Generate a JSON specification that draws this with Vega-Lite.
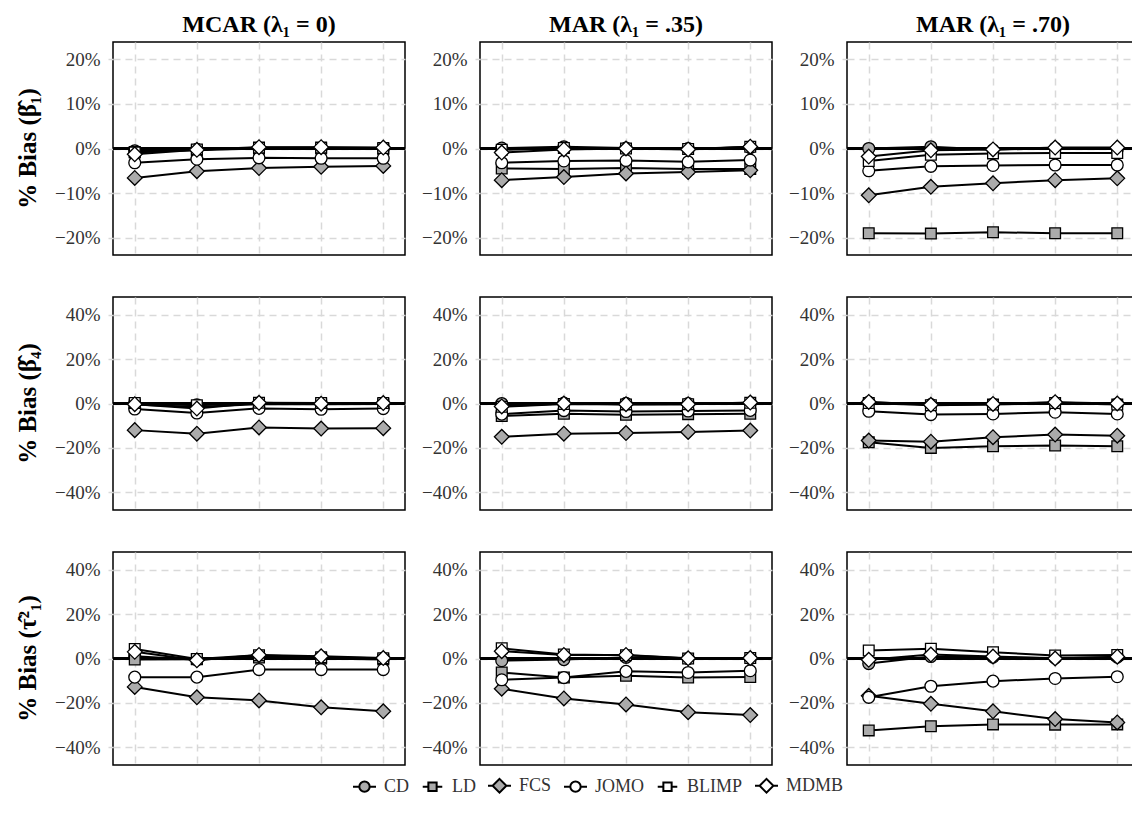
{
  "$schema": "https://vega.github.io/schema/vega-lite/v6.json",
  "background": "white",
  "padding": {"left": 15, "top": 13, "right": 0, "bottom": 0},
  "config": {
    "font": "Liberation Serif",
    "view": {"stroke": "black", "strokeWidth": 1.5},
    "axis": {"labelFont": "Liberation Serif", "labelFontSize": 19, "labelColor": "#333333", "gridColor": "#d9d9d9", "gridDash": [7, 5], "gridWidth": 1.5, "tickColor": "#d9d9d9", "tickSize": 5, "tickWidth": 1.5, "domain": false, "labelPadding": 8},
    "header": {"labelFont": "Liberation Serif", "labelColor": "black"}
  },
  "datasets": {
    "b1": [
      {"p":"b1","c":1,"m":"CD","x":1,"v":-0.5},{"p":"b1","c":1,"m":"CD","x":2,"v":-0.2},{"p":"b1","c":1,"m":"CD","x":3,"v":0.1},{"p":"b1","c":1,"m":"CD","x":4,"v":0.1},{"p":"b1","c":1,"m":"CD","x":5,"v":0.0},
      {"p":"b1","c":1,"m":"LD","x":1,"v":-0.8},{"p":"b1","c":1,"m":"LD","x":2,"v":-0.4},{"p":"b1","c":1,"m":"LD","x":3,"v":0.0},{"p":"b1","c":1,"m":"LD","x":4,"v":0.0},{"p":"b1","c":1,"m":"LD","x":5,"v":-0.1},
      {"p":"b1","c":1,"m":"FCS","x":1,"v":-6.6},{"p":"b1","c":1,"m":"FCS","x":2,"v":-5.1},{"p":"b1","c":1,"m":"FCS","x":3,"v":-4.4},{"p":"b1","c":1,"m":"FCS","x":4,"v":-4.1},{"p":"b1","c":1,"m":"FCS","x":5,"v":-3.9},
      {"p":"b1","c":1,"m":"JOMO","x":1,"v":-3.2},{"p":"b1","c":1,"m":"JOMO","x":2,"v":-2.4},{"p":"b1","c":1,"m":"JOMO","x":3,"v":-2.1},{"p":"b1","c":1,"m":"JOMO","x":4,"v":-2.2},{"p":"b1","c":1,"m":"JOMO","x":5,"v":-2.2},
      {"p":"b1","c":1,"m":"BLIMP","x":1,"v":-0.9},{"p":"b1","c":1,"m":"BLIMP","x":2,"v":-0.2},{"p":"b1","c":1,"m":"BLIMP","x":3,"v":0.2},{"p":"b1","c":1,"m":"BLIMP","x":4,"v":0.2},{"p":"b1","c":1,"m":"BLIMP","x":5,"v":0.1},
      {"p":"b1","c":1,"m":"MDMB","x":1,"v":-1.3},{"p":"b1","c":1,"m":"MDMB","x":2,"v":-0.3},{"p":"b1","c":1,"m":"MDMB","x":3,"v":0.3},{"p":"b1","c":1,"m":"MDMB","x":4,"v":0.3},{"p":"b1","c":1,"m":"MDMB","x":5,"v":0.2},
      {"p":"b1","c":2,"m":"CD","x":1,"v":0.1},{"p":"b1","c":2,"m":"CD","x":2,"v":0.4},{"p":"b1","c":2,"m":"CD","x":3,"v":0.1},{"p":"b1","c":2,"m":"CD","x":4,"v":0.0},{"p":"b1","c":2,"m":"CD","x":5,"v":0.2},
      {"p":"b1","c":2,"m":"LD","x":1,"v":-4.5},{"p":"b1","c":2,"m":"LD","x":2,"v":-4.6},{"p":"b1","c":2,"m":"LD","x":3,"v":-4.4},{"p":"b1","c":2,"m":"LD","x":4,"v":-4.6},{"p":"b1","c":2,"m":"LD","x":5,"v":-4.6},
      {"p":"b1","c":2,"m":"FCS","x":1,"v":-7.1},{"p":"b1","c":2,"m":"FCS","x":2,"v":-6.4},{"p":"b1","c":2,"m":"FCS","x":3,"v":-5.6},{"p":"b1","c":2,"m":"FCS","x":4,"v":-5.3},{"p":"b1","c":2,"m":"FCS","x":5,"v":-4.9},
      {"p":"b1","c":2,"m":"JOMO","x":1,"v":-3.2},{"p":"b1","c":2,"m":"JOMO","x":2,"v":-2.8},{"p":"b1","c":2,"m":"JOMO","x":3,"v":-2.7},{"p":"b1","c":2,"m":"JOMO","x":4,"v":-3.0},{"p":"b1","c":2,"m":"JOMO","x":5,"v":-2.6},
      {"p":"b1","c":2,"m":"BLIMP","x":1,"v":-0.3},{"p":"b1","c":2,"m":"BLIMP","x":2,"v":0.1},{"p":"b1","c":2,"m":"BLIMP","x":3,"v":0.0},{"p":"b1","c":2,"m":"BLIMP","x":4,"v":-0.1},{"p":"b1","c":2,"m":"BLIMP","x":5,"v":0.4},
      {"p":"b1","c":2,"m":"MDMB","x":1,"v":-0.9},{"p":"b1","c":2,"m":"MDMB","x":2,"v":-0.2},{"p":"b1","c":2,"m":"MDMB","x":3,"v":0.0},{"p":"b1","c":2,"m":"MDMB","x":4,"v":-0.2},{"p":"b1","c":2,"m":"MDMB","x":5,"v":0.4},
      {"p":"b1","c":3,"m":"CD","x":1,"v":0.0},{"p":"b1","c":3,"m":"CD","x":2,"v":0.4},{"p":"b1","c":3,"m":"CD","x":3,"v":-0.3},{"p":"b1","c":3,"m":"CD","x":4,"v":0.1},{"p":"b1","c":3,"m":"CD","x":5,"v":-0.1},
      {"p":"b1","c":3,"m":"LD","x":1,"v":-19.0},{"p":"b1","c":3,"m":"LD","x":2,"v":-19.1},{"p":"b1","c":3,"m":"LD","x":3,"v":-18.8},{"p":"b1","c":3,"m":"LD","x":4,"v":-19.0},{"p":"b1","c":3,"m":"LD","x":5,"v":-19.0},
      {"p":"b1","c":3,"m":"FCS","x":1,"v":-10.5},{"p":"b1","c":3,"m":"FCS","x":2,"v":-8.6},{"p":"b1","c":3,"m":"FCS","x":3,"v":-7.8},{"p":"b1","c":3,"m":"FCS","x":4,"v":-7.1},{"p":"b1","c":3,"m":"FCS","x":5,"v":-6.7},
      {"p":"b1","c":3,"m":"JOMO","x":1,"v":-5.0},{"p":"b1","c":3,"m":"JOMO","x":2,"v":-4.0},{"p":"b1","c":3,"m":"JOMO","x":3,"v":-3.8},{"p":"b1","c":3,"m":"JOMO","x":4,"v":-3.7},{"p":"b1","c":3,"m":"JOMO","x":5,"v":-3.7},
      {"p":"b1","c":3,"m":"BLIMP","x":1,"v":-2.8},{"p":"b1","c":3,"m":"BLIMP","x":2,"v":-1.4},{"p":"b1","c":3,"m":"BLIMP","x":3,"v":-1.1},{"p":"b1","c":3,"m":"BLIMP","x":4,"v":-1.0},{"p":"b1","c":3,"m":"BLIMP","x":5,"v":-1.0},
      {"p":"b1","c":3,"m":"MDMB","x":1,"v":-1.8},{"p":"b1","c":3,"m":"MDMB","x":2,"v":-0.4},{"p":"b1","c":3,"m":"MDMB","x":3,"v":-0.2},{"p":"b1","c":3,"m":"MDMB","x":4,"v":0.2},{"p":"b1","c":3,"m":"MDMB","x":5,"v":0.2}
    ],
    "b4": [
      {"p":"b4","c":1,"m":"CD","x":1,"v":0.0},{"p":"b4","c":1,"m":"CD","x":2,"v":-0.6},{"p":"b4","c":1,"m":"CD","x":3,"v":0.1},{"p":"b4","c":1,"m":"CD","x":4,"v":0.0},{"p":"b4","c":1,"m":"CD","x":5,"v":0.0},
      {"p":"b4","c":1,"m":"LD","x":1,"v":-0.4},{"p":"b4","c":1,"m":"LD","x":2,"v":-1.6},{"p":"b4","c":1,"m":"LD","x":3,"v":-0.3},{"p":"b4","c":1,"m":"LD","x":4,"v":-0.3},{"p":"b4","c":1,"m":"LD","x":5,"v":-0.2},
      {"p":"b4","c":1,"m":"FCS","x":1,"v":-12.0},{"p":"b4","c":1,"m":"FCS","x":2,"v":-13.6},{"p":"b4","c":1,"m":"FCS","x":3,"v":-10.8},{"p":"b4","c":1,"m":"FCS","x":4,"v":-11.3},{"p":"b4","c":1,"m":"FCS","x":5,"v":-11.1},
      {"p":"b4","c":1,"m":"JOMO","x":1,"v":-2.5},{"p":"b4","c":1,"m":"JOMO","x":2,"v":-4.3},{"p":"b4","c":1,"m":"JOMO","x":3,"v":-2.2},{"p":"b4","c":1,"m":"JOMO","x":4,"v":-2.6},{"p":"b4","c":1,"m":"JOMO","x":5,"v":-2.3},
      {"p":"b4","c":1,"m":"BLIMP","x":1,"v":0.2},{"p":"b4","c":1,"m":"BLIMP","x":2,"v":-0.8},{"p":"b4","c":1,"m":"BLIMP","x":3,"v":0.3},{"p":"b4","c":1,"m":"BLIMP","x":4,"v":0.2},{"p":"b4","c":1,"m":"BLIMP","x":5,"v":0.2},
      {"p":"b4","c":1,"m":"MDMB","x":1,"v":-0.3},{"p":"b4","c":1,"m":"MDMB","x":2,"v":-2.3},{"p":"b4","c":1,"m":"MDMB","x":3,"v":0.3},{"p":"b4","c":1,"m":"MDMB","x":4,"v":-0.1},{"p":"b4","c":1,"m":"MDMB","x":5,"v":0.2},
      {"p":"b4","c":2,"m":"CD","x":1,"v":0.0},{"p":"b4","c":2,"m":"CD","x":2,"v":0.2},{"p":"b4","c":2,"m":"CD","x":3,"v":0.1},{"p":"b4","c":2,"m":"CD","x":4,"v":0.0},{"p":"b4","c":2,"m":"CD","x":5,"v":0.2},
      {"p":"b4","c":2,"m":"LD","x":1,"v":-5.6},{"p":"b4","c":2,"m":"LD","x":2,"v":-4.6},{"p":"b4","c":2,"m":"LD","x":3,"v":-5.1},{"p":"b4","c":2,"m":"LD","x":4,"v":-4.8},{"p":"b4","c":2,"m":"LD","x":5,"v":-4.6},
      {"p":"b4","c":2,"m":"FCS","x":1,"v":-15.0},{"p":"b4","c":2,"m":"FCS","x":2,"v":-13.6},{"p":"b4","c":2,"m":"FCS","x":3,"v":-13.3},{"p":"b4","c":2,"m":"FCS","x":4,"v":-12.8},{"p":"b4","c":2,"m":"FCS","x":5,"v":-12.2},
      {"p":"b4","c":2,"m":"JOMO","x":1,"v":-4.8},{"p":"b4","c":2,"m":"JOMO","x":2,"v":-3.2},{"p":"b4","c":2,"m":"JOMO","x":3,"v":-3.6},{"p":"b4","c":2,"m":"JOMO","x":4,"v":-3.4},{"p":"b4","c":2,"m":"JOMO","x":5,"v":-3.1},
      {"p":"b4","c":2,"m":"BLIMP","x":1,"v":-1.5},{"p":"b4","c":2,"m":"BLIMP","x":2,"v":-0.2},{"p":"b4","c":2,"m":"BLIMP","x":3,"v":-0.4},{"p":"b4","c":2,"m":"BLIMP","x":4,"v":-0.3},{"p":"b4","c":2,"m":"BLIMP","x":5,"v":0.3},
      {"p":"b4","c":2,"m":"MDMB","x":1,"v":-1.3},{"p":"b4","c":2,"m":"MDMB","x":2,"v":0.0},{"p":"b4","c":2,"m":"MDMB","x":3,"v":-0.3},{"p":"b4","c":2,"m":"MDMB","x":4,"v":-0.3},{"p":"b4","c":2,"m":"MDMB","x":5,"v":0.4},
      {"p":"b4","c":3,"m":"CD","x":1,"v":0.6},{"p":"b4","c":3,"m":"CD","x":2,"v":-0.5},{"p":"b4","c":3,"m":"CD","x":3,"v":-0.3},{"p":"b4","c":3,"m":"CD","x":4,"v":0.4},{"p":"b4","c":3,"m":"CD","x":5,"v":-0.2},
      {"p":"b4","c":3,"m":"LD","x":1,"v":-17.5},{"p":"b4","c":3,"m":"LD","x":2,"v":-20.0},{"p":"b4","c":3,"m":"LD","x":3,"v":-19.3},{"p":"b4","c":3,"m":"LD","x":4,"v":-18.9},{"p":"b4","c":3,"m":"LD","x":5,"v":-19.3},
      {"p":"b4","c":3,"m":"FCS","x":1,"v":-16.7},{"p":"b4","c":3,"m":"FCS","x":2,"v":-17.2},{"p":"b4","c":3,"m":"FCS","x":3,"v":-15.2},{"p":"b4","c":3,"m":"FCS","x":4,"v":-14.0},{"p":"b4","c":3,"m":"FCS","x":5,"v":-14.5},
      {"p":"b4","c":3,"m":"JOMO","x":1,"v":-3.5},{"p":"b4","c":3,"m":"JOMO","x":2,"v":-5.0},{"p":"b4","c":3,"m":"JOMO","x":3,"v":-4.7},{"p":"b4","c":3,"m":"JOMO","x":4,"v":-3.9},{"p":"b4","c":3,"m":"JOMO","x":5,"v":-4.7},
      {"p":"b4","c":3,"m":"BLIMP","x":1,"v":0.2},{"p":"b4","c":3,"m":"BLIMP","x":2,"v":-0.8},{"p":"b4","c":3,"m":"BLIMP","x":3,"v":-0.5},{"p":"b4","c":3,"m":"BLIMP","x":4,"v":0.2},{"p":"b4","c":3,"m":"BLIMP","x":5,"v":-0.5},
      {"p":"b4","c":3,"m":"MDMB","x":1,"v":0.7},{"p":"b4","c":3,"m":"MDMB","x":2,"v":-0.6},{"p":"b4","c":3,"m":"MDMB","x":3,"v":-0.2},{"p":"b4","c":3,"m":"MDMB","x":4,"v":0.6},{"p":"b4","c":3,"m":"MDMB","x":5,"v":0.0}
    ],
    "t1": [
      {"p":"t1","c":1,"m":"CD","x":1,"v":1.0},{"p":"t1","c":1,"m":"CD","x":2,"v":-0.6},{"p":"t1","c":1,"m":"CD","x":3,"v":1.0},{"p":"t1","c":1,"m":"CD","x":4,"v":0.4},{"p":"t1","c":1,"m":"CD","x":5,"v":0.0},
      {"p":"t1","c":1,"m":"LD","x":1,"v":-0.5},{"p":"t1","c":1,"m":"LD","x":2,"v":-0.3},{"p":"t1","c":1,"m":"LD","x":3,"v":0.4},{"p":"t1","c":1,"m":"LD","x":4,"v":0.0},{"p":"t1","c":1,"m":"LD","x":5,"v":-0.4},
      {"p":"t1","c":1,"m":"FCS","x":1,"v":-12.8},{"p":"t1","c":1,"m":"FCS","x":2,"v":-17.5},{"p":"t1","c":1,"m":"FCS","x":3,"v":-18.9},{"p":"t1","c":1,"m":"FCS","x":4,"v":-22.0},{"p":"t1","c":1,"m":"FCS","x":5,"v":-23.8},
      {"p":"t1","c":1,"m":"JOMO","x":1,"v":-8.4},{"p":"t1","c":1,"m":"JOMO","x":2,"v":-8.4},{"p":"t1","c":1,"m":"JOMO","x":3,"v":-5.0},{"p":"t1","c":1,"m":"JOMO","x":4,"v":-5.0},{"p":"t1","c":1,"m":"JOMO","x":5,"v":-5.0},
      {"p":"t1","c":1,"m":"BLIMP","x":1,"v":4.3},{"p":"t1","c":1,"m":"BLIMP","x":2,"v":-0.2},{"p":"t1","c":1,"m":"BLIMP","x":3,"v":1.5},{"p":"t1","c":1,"m":"BLIMP","x":4,"v":0.6},{"p":"t1","c":1,"m":"BLIMP","x":5,"v":0.1},
      {"p":"t1","c":1,"m":"MDMB","x":1,"v":3.0},{"p":"t1","c":1,"m":"MDMB","x":2,"v":-0.8},{"p":"t1","c":1,"m":"MDMB","x":3,"v":1.6},{"p":"t1","c":1,"m":"MDMB","x":4,"v":1.0},{"p":"t1","c":1,"m":"MDMB","x":5,"v":0.2},
      {"p":"t1","c":2,"m":"CD","x":1,"v":-1.0},{"p":"t1","c":2,"m":"CD","x":2,"v":-0.5},{"p":"t1","c":2,"m":"CD","x":3,"v":0.5},{"p":"t1","c":2,"m":"CD","x":4,"v":-0.1},{"p":"t1","c":2,"m":"CD","x":5,"v":0.0},
      {"p":"t1","c":2,"m":"LD","x":1,"v":-6.3},{"p":"t1","c":2,"m":"LD","x":2,"v":-8.6},{"p":"t1","c":2,"m":"LD","x":3,"v":-7.8},{"p":"t1","c":2,"m":"LD","x":4,"v":-8.6},{"p":"t1","c":2,"m":"LD","x":5,"v":-8.3},
      {"p":"t1","c":2,"m":"FCS","x":1,"v":-13.6},{"p":"t1","c":2,"m":"FCS","x":2,"v":-18.0},{"p":"t1","c":2,"m":"FCS","x":3,"v":-20.7},{"p":"t1","c":2,"m":"FCS","x":4,"v":-24.2},{"p":"t1","c":2,"m":"FCS","x":5,"v":-25.5},
      {"p":"t1","c":2,"m":"JOMO","x":1,"v":-9.6},{"p":"t1","c":2,"m":"JOMO","x":2,"v":-8.6},{"p":"t1","c":2,"m":"JOMO","x":3,"v":-5.8},{"p":"t1","c":2,"m":"JOMO","x":4,"v":-6.3},{"p":"t1","c":2,"m":"JOMO","x":5,"v":-5.5},
      {"p":"t1","c":2,"m":"BLIMP","x":1,"v":4.6},{"p":"t1","c":2,"m":"BLIMP","x":2,"v":1.8},{"p":"t1","c":2,"m":"BLIMP","x":3,"v":1.5},{"p":"t1","c":2,"m":"BLIMP","x":4,"v":0.0},{"p":"t1","c":2,"m":"BLIMP","x":5,"v":0.2},
      {"p":"t1","c":2,"m":"MDMB","x":1,"v":3.3},{"p":"t1","c":2,"m":"MDMB","x":2,"v":1.6},{"p":"t1","c":2,"m":"MDMB","x":3,"v":1.6},{"p":"t1","c":2,"m":"MDMB","x":4,"v":0.1},{"p":"t1","c":2,"m":"MDMB","x":5,"v":0.2},
      {"p":"t1","c":3,"m":"CD","x":1,"v":-2.3},{"p":"t1","c":3,"m":"CD","x":2,"v":0.9},{"p":"t1","c":3,"m":"CD","x":3,"v":0.6},{"p":"t1","c":3,"m":"CD","x":4,"v":0.2},{"p":"t1","c":3,"m":"CD","x":5,"v":0.6},
      {"p":"t1","c":3,"m":"LD","x":1,"v":-32.4},{"p":"t1","c":3,"m":"LD","x":2,"v":-30.5},{"p":"t1","c":3,"m":"LD","x":3,"v":-29.7},{"p":"t1","c":3,"m":"LD","x":4,"v":-29.8},{"p":"t1","c":3,"m":"LD","x":5,"v":-29.7},
      {"p":"t1","c":3,"m":"FCS","x":1,"v":-16.8},{"p":"t1","c":3,"m":"FCS","x":2,"v":-20.4},{"p":"t1","c":3,"m":"FCS","x":3,"v":-23.8},{"p":"t1","c":3,"m":"FCS","x":4,"v":-27.3},{"p":"t1","c":3,"m":"FCS","x":5,"v":-28.8},
      {"p":"t1","c":3,"m":"JOMO","x":1,"v":-17.5},{"p":"t1","c":3,"m":"JOMO","x":2,"v":-12.5},{"p":"t1","c":3,"m":"JOMO","x":3,"v":-10.2},{"p":"t1","c":3,"m":"JOMO","x":4,"v":-9.0},{"p":"t1","c":3,"m":"JOMO","x":5,"v":-8.2},
      {"p":"t1","c":3,"m":"BLIMP","x":1,"v":3.6},{"p":"t1","c":3,"m":"BLIMP","x":2,"v":4.4},{"p":"t1","c":3,"m":"BLIMP","x":3,"v":2.8},{"p":"t1","c":3,"m":"BLIMP","x":4,"v":1.4},{"p":"t1","c":3,"m":"BLIMP","x":5,"v":1.6},
      {"p":"t1","c":3,"m":"MDMB","x":1,"v":-0.6},{"p":"t1","c":3,"m":"MDMB","x":2,"v":1.8},{"p":"t1","c":3,"m":"MDMB","x":3,"v":0.9},{"p":"t1","c":3,"m":"MDMB","x":4,"v":0.0},{"p":"t1","c":3,"m":"MDMB","x":5,"v":0.8}
    ]
  },
  "spacing": 40,
  "vconcat": [
    {
      "data": {"name": "b1"},
      "facet": {
        "row": {"field": "p", "type": "nominal", "title": null, "header": {"labelExpr": "'% Bias (β̂₁)'", "labelAngle": -90, "labelOrient": "left", "labelFontSize": 25, "labelFontWeight": "bold", "labelPadding": 0}},
        "column": {"field": "c", "type": "ordinal", "title": null, "header": {"labelExpr": "datum.value == 1 ? 'MCAR (λ₁ = 0)' : datum.value == 2 ? 'MAR (λ₁ = .35)' : 'MAR (λ₁ = .70)'", "labelFontSize": 24, "labelFontWeight": "bold", "labelPadding": 4}}
      },
      "spacing": {"column": 13, "row": 0},
      "resolve": {"axis": {"y": "independent"}},
      "spec": {
        "width": 292, "height": 213,
        "layer": [
          {"mark": {"type": "rule", "color": "black", "strokeWidth": 2.5},
           "encoding": {"y": {"datum": 0, "type": "quantitative", "scale": {"domain": [-23.9, 23.9], "nice": false, "zero": false}, "axis": {"values": [-20, -10, 0, 10, 20], "title": null, "grid": true, "labelExpr": "replace(datum.value + '%', '-', '−')"}}}},
          {"mark": {"type": "line", "color": "black", "strokeWidth": 2},
           "encoding": {
             "x": {"field": "x", "type": "quantitative", "scale": {"domain": [0.65, 5.35], "nice": false, "zero": false}, "axis": {"values": [1, 2, 3, 4, 5], "labels": false, "ticks": false, "domain": false, "title": null, "grid": true}},
             "y": {"field": "v", "type": "quantitative"},
             "detail": {"field": "m"}}},
          {"mark": {"type": "point", "filled": true, "stroke": "black", "strokeWidth": 1.3, "opacity": 1},
           "encoding": {
             "x": {"field": "x", "type": "quantitative"},
             "y": {"field": "v", "type": "quantitative"},
             "shape": {"condition": [{"test": "datum.m == 'CD' || datum.m == 'JOMO'", "value": "circle"}, {"test": "datum.m == 'LD' || datum.m == 'BLIMP'", "value": "square"}], "value": "diamond"},
             "fill": {"condition": {"test": "datum.m == 'CD' || datum.m == 'LD' || datum.m == 'FCS'", "value": "#ababab"}, "value": "white"},
             "size": {"condition": [{"test": "datum.m == 'CD' || datum.m == 'JOMO'", "value": 140}, {"test": "datum.m == 'LD' || datum.m == 'BLIMP'", "value": 115}], "value": 215}}}
        ]
      }
    },
    {
      "data": {"name": "b4"},
      "facet": {
        "row": {"field": "p", "type": "nominal", "title": null, "header": {"labelExpr": "'% Bias (β̂₄)'", "labelAngle": -90, "labelOrient": "left", "labelFontSize": 25, "labelFontWeight": "bold", "labelPadding": 0}},
        "column": {"field": "c", "type": "ordinal", "title": null, "header": {"labels": false}}
      },
      "spacing": {"column": 13, "row": 0},
      "resolve": {"axis": {"y": "independent"}},
      "spec": {
        "width": 292, "height": 213,
        "layer": [
          {"mark": {"type": "rule", "color": "black", "strokeWidth": 2.5},
           "encoding": {"y": {"datum": 0, "type": "quantitative", "scale": {"domain": [-48, 48], "nice": false, "zero": false}, "axis": {"values": [-40, -20, 0, 20, 40], "title": null, "grid": true, "labelExpr": "replace(datum.value + '%', '-', '−')"}}}},
          {"mark": {"type": "line", "color": "black", "strokeWidth": 2},
           "encoding": {
             "x": {"field": "x", "type": "quantitative", "scale": {"domain": [0.65, 5.35], "nice": false, "zero": false}, "axis": {"values": [1, 2, 3, 4, 5], "labels": false, "ticks": false, "domain": false, "title": null, "grid": true}},
             "y": {"field": "v", "type": "quantitative"},
             "detail": {"field": "m"}}},
          {"mark": {"type": "point", "filled": true, "stroke": "black", "strokeWidth": 1.3, "opacity": 1},
           "encoding": {
             "x": {"field": "x", "type": "quantitative"},
             "y": {"field": "v", "type": "quantitative"},
             "shape": {"condition": [{"test": "datum.m == 'CD' || datum.m == 'JOMO'", "value": "circle"}, {"test": "datum.m == 'LD' || datum.m == 'BLIMP'", "value": "square"}], "value": "diamond"},
             "fill": {"condition": {"test": "datum.m == 'CD' || datum.m == 'LD' || datum.m == 'FCS'", "value": "#ababab"}, "value": "white"},
             "size": {"condition": [{"test": "datum.m == 'CD' || datum.m == 'JOMO'", "value": 140}, {"test": "datum.m == 'LD' || datum.m == 'BLIMP'", "value": 115}], "value": 215}}}
        ]
      }
    },
    {
      "data": {"name": "t1"},
      "facet": {
        "row": {"field": "p", "type": "nominal", "title": null, "header": {"labelExpr": "'% Bias (τ̂²₁)'", "labelAngle": -90, "labelOrient": "left", "labelFontSize": 25, "labelFontWeight": "bold", "labelPadding": 0}},
        "column": {"field": "c", "type": "ordinal", "title": null, "header": {"labels": false}}
      },
      "spacing": {"column": 13, "row": 0},
      "resolve": {"axis": {"y": "independent"}},
      "spec": {
        "width": 292, "height": 213,
        "layer": [
          {"mark": {"type": "rule", "color": "black", "strokeWidth": 2.5},
           "encoding": {"y": {"datum": 0, "type": "quantitative", "scale": {"domain": [-48, 48], "nice": false, "zero": false}, "axis": {"values": [-40, -20, 0, 20, 40], "title": null, "grid": true, "labelExpr": "replace(datum.value + '%', '-', '−')"}}}},
          {"mark": {"type": "line", "color": "black", "strokeWidth": 2},
           "encoding": {
             "x": {"field": "x", "type": "quantitative", "scale": {"domain": [0.65, 5.35], "nice": false, "zero": false}, "axis": {"values": [1, 2, 3, 4, 5], "labels": false, "ticks": false, "domain": false, "title": null, "grid": true}},
             "y": {"field": "v", "type": "quantitative"},
             "detail": {"field": "m"}}},
          {"mark": {"type": "point", "filled": true, "stroke": "black", "strokeWidth": 1.3, "opacity": 1},
           "encoding": {
             "x": {"field": "x", "type": "quantitative"},
             "y": {"field": "v", "type": "quantitative"},
             "shape": {"condition": [{"test": "datum.m == 'CD' || datum.m == 'JOMO'", "value": "circle"}, {"test": "datum.m == 'LD' || datum.m == 'BLIMP'", "value": "square"}], "value": "diamond"},
             "fill": {"condition": {"test": "datum.m == 'CD' || datum.m == 'LD' || datum.m == 'FCS'", "value": "#ababab"}, "value": "white"},
             "size": {"condition": [{"test": "datum.m == 'CD' || datum.m == 'JOMO'", "value": 140}, {"test": "datum.m == 'LD' || datum.m == 'BLIMP'", "value": 115}], "value": 215}}},
          {"mark": {"type": "point", "filled": true, "opacity": 0},
           "encoding": {
             "x": {"field": "x", "type": "quantitative"},
             "y": {"field": "v", "type": "quantitative"},
             "shape": {"field": "m", "type": "nominal", "scale": {"domain": ["CD", "LD", "FCS", "JOMO", "BLIMP", "MDMB"], "range": [
               "M-1,0L-0.45,0M0.45,0L1,0M0.45,0A0.45,0.45,0,1,1,-0.45,0A0.45,0.45,0,1,1,0.45,0Z",
               "M-0.85,0L-0.36,0M0.36,0L0.85,0M-0.36,-0.36L0.36,-0.36L0.36,0.36L-0.36,0.36Z",
               "M-1,0L-0.6,0M0.6,0L1,0M0,-0.6L0.6,0L0,0.6L-0.6,0Z",
               "M-1,0L-0.45,0M0.45,0L1,0M0.45,0A0.45,0.45,0,1,1,-0.45,0A0.45,0.45,0,1,1,0.45,0Z",
               "M-0.85,0L-0.36,0M0.36,0L0.85,0M-0.36,-0.36L0.36,-0.36L0.36,0.36L-0.36,0.36Z",
               "M-1,0L-0.6,0M0.6,0L1,0M0,-0.6L0.6,0L0,0.6L-0.6,0Z"]},
               "legend": {"title": null, "orient": "none", "legendX": 239, "legendY": 731, "direction": "horizontal", "symbolSize": 529, "symbolOpacity": 1, "labelFont": "Liberation Serif", "labelFontSize": 18, "labelColor": "#333333", "columnPadding": 8, "labelOffset": 7, "encode": {"symbols": {"update": {"stroke": {"value": "black"}, "strokeWidth": {"value": 2}, "opacity": {"value": 1}}}}}},
             "fill": {"field": "m", "type": "nominal", "scale": {"domain": ["CD", "LD", "FCS", "JOMO", "BLIMP", "MDMB"], "range": ["#ababab", "#ababab", "#ababab", "white", "white", "white"]},
               "legend": {"title": null, "orient": "none", "legendX": 239, "legendY": 731, "direction": "horizontal", "symbolSize": 529, "symbolOpacity": 1, "labelFont": "Liberation Serif", "labelFontSize": 18, "labelColor": "#333333", "columnPadding": 8, "labelOffset": 7, "encode": {"symbols": {"update": {"stroke": {"value": "black"}, "strokeWidth": {"value": 2}, "opacity": {"value": 1}}}}}}}}
        ]
      }
    }
  ]
}
